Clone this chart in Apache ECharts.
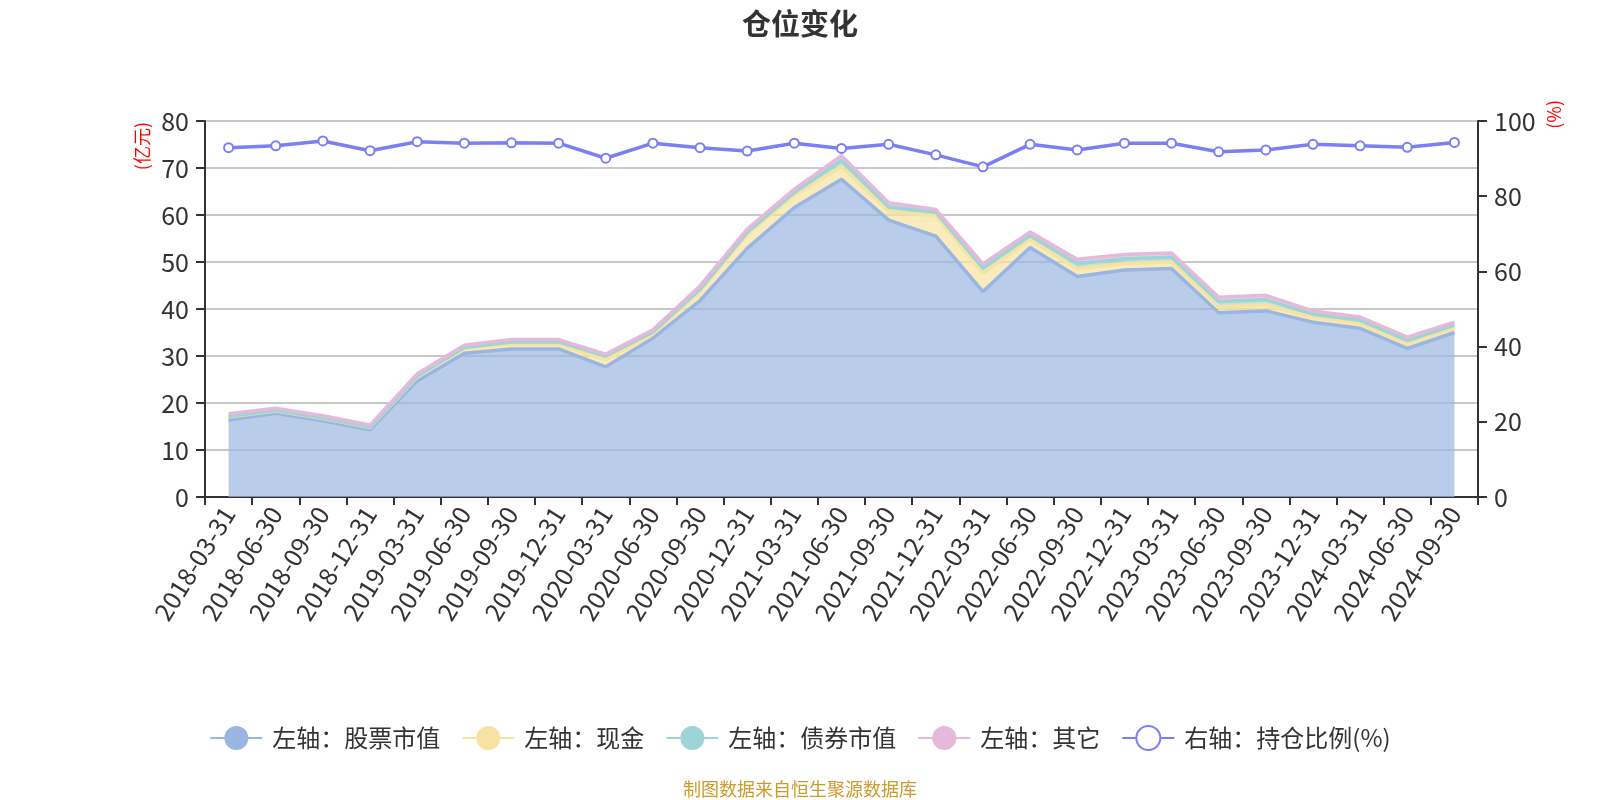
<!DOCTYPE html>
<html>
<head>
<meta charset="utf-8">
<title>仓位变化</title>
<script src="https://cdn.jsdelivr.net/npm/echarts@6/dist/echarts.min.js"></script>
<style>
html, body { margin: 0; padding: 0; background: #fff; }
#ct1 { width: 1600px; height: 800px; }
</style>
</head>
<body>
<div id="ct1"></div>
<script>
var dates = ['2018-03-31', '2018-06-30', '2018-09-30', '2018-12-31', '2019-03-31', '2019-06-30', '2019-09-30',
	'2019-12-31', '2020-03-31', '2020-06-30', '2020-09-30', '2020-12-31', '2021-03-31', '2021-06-30',
	'2021-09-30', '2021-12-31', '2022-03-31', '2022-06-30', '2022-09-30', '2022-12-31', '2023-03-31',
	'2023-06-30', '2023-09-30', '2023-12-31', '2024-03-31', '2024-06-30', '2024-09-30'];
// 亿元
var stockVal = [16.4, 17.8, 16.2, 14.3, 24.7, 30.6, 31.5, 31.5, 27.7, 33.8, 41.8, 52.9, 61.6, 67.6,
	58.9, 55.5, 43.7, 53.1, 46.9, 48.3, 48.6, 39.2, 39.6, 37.2, 35.9, 31.6, 35.0];
var cashVal = [0.6, 0.5, 0.5, 0.5, 0.8, 1.0, 1.0, 1.0, 1.5, 0.9, 2.0, 3.0, 2.6, 2.7,
	1.9, 4.3, 3.9, 1.7, 1.6, 1.4, 1.4, 1.3, 1.3, 1.0, 1.0, 1.0, 1.0];
var bondVal = [0.1, 0.1, 0.1, 0.1, 0.2, 0.2, 0.5, 0.5, 0.8, 0.4, 0.4, 0.4, 0.6, 1.3,
	0.9, 0.8, 1.1, 0.8, 1.2, 1.0, 1.0, 1.1, 1.1, 0.7, 0.7, 0.7, 0.6];
var otherVal = [0.6, 0.5, 0.5, 0.4, 0.5, 0.5, 0.5, 0.5, 0.4, 0.5, 0.7, 0.7, 0.7, 1.0,
	0.9, 0.6, 0.9, 0.8, 0.9, 0.9, 0.9, 0.9, 0.9, 0.7, 0.7, 0.7, 0.6];
// %
var ratioVal = [92.9, 93.4, 94.7, 92.1, 94.5, 94.1, 94.2, 94.1, 90.1, 94.1, 92.9, 92.0, 94.1, 92.7,
	93.8, 91.0, 87.8, 93.8, 92.3, 94.1, 94.1, 91.8, 92.3, 93.8, 93.4, 93.0, 94.3];

var leftTicks = { min: 0, max: 80, interval: 10 };
var rightTicks = { min: 0, max: 100, interval: 20 };

var font = '"Noto Sans CJK SC", "Noto Sans", sans-serif';

function areaSeries(name, data, color, fill) {
	return {
		name: name,
		type: 'line',
		stack: 'total',
		yAxisIndex: 0,
		data: data,
		symbol: 'circle',
		showSymbol: false,
		lineStyle: { color: color, width: 3.5 },
		itemStyle: { color: color },
		areaStyle: { color: fill, opacity: 0.7 }
	};
}

var option1 = {
	textStyle: { fontFamily: font },
	title: {
		text: '仓位变化',
		left: 'center',
		top: 4,
		textStyle: { fontSize: 29, fontWeight: 'bold', color: '#333', fontFamily: font }
	},
	legend: {
		bottom: 44,
		left: 'center',
		itemWidth: 52,
		itemHeight: 30,
		itemGap: 21,
		textStyle: { fontSize: 24, color: '#333', padding: [0, 0, 0, 5] },
		data: ['左轴：股票市值', '左轴：现金', '左轴：债券市值', '左轴：其它', '右轴：持仓比例(%)']
	},
	grid: { left: 205, right: 122, top: 121, bottom: 303, containLabel: false },
	graphic: [
		{
			type: 'text', left: 133, top: 122, rotation: Math.PI / 2,
			style: { text: '(亿元)', fill: '#ff0000', fontSize: 18, fontFamily: font }
		},
		{
			type: 'text', left: 1545, top: 100, rotation: Math.PI / 2,
			style: { text: '(%)', fill: '#ff0000', fontSize: 18, fontFamily: font }
		},
		{
			type: 'text', left: 'center', bottom: 2,
			style: { text: '制图数据来自恒生聚源数据库', fill: '#cc9a2c', fontSize: 18, fontFamily: font }
		}
	],
	xAxis: {
		type: 'category',
		data: dates,
		boundaryGap: true,
		axisLine: { lineStyle: { color: '#333', width: 2 } },
		axisTick: { show: true, length: 8, lineStyle: { color: '#333', width: 2 } },
		axisLabel: { rotate: 58, fontSize: 25, color: '#333', margin: 12, interval: 0 }
	},
	yAxis: [
		{
			type: 'value',
			min: leftTicks.min, max: leftTicks.max, interval: leftTicks.interval,
			axisLine: { show: true, lineStyle: { color: '#333', width: 2 } },
			axisTick: { show: true, length: 9, lineStyle: { color: '#333', width: 2 } },
			axisLabel: { fontSize: 25, color: '#333', margin: 16 },
			splitLine: { show: true, lineStyle: { color: '#c8c8c8', width: 2 } }
		},
		{
			type: 'value',
			min: rightTicks.min, max: rightTicks.max, interval: rightTicks.interval,
			axisLine: { show: true, lineStyle: { color: '#333', width: 2 } },
			axisTick: { show: true, length: 9, lineStyle: { color: '#333', width: 2 } },
			axisLabel: { fontSize: 25, color: '#333', margin: 16 },
			splitLine: { show: false }
		}
	],
	series: [
		areaSeries('左轴：股票市值', stockVal, '#9ab5e1', '#9bb8e3'),
		areaSeries('左轴：现金', cashVal, '#f6e3a3', '#f6e2a0'),
		areaSeries('左轴：债券市值', bondVal, '#9dd5d6', '#9fd6d6'),
		areaSeries('左轴：其它', otherVal, '#e6b8da', '#e9bddc'),
		{
			name: '右轴：持仓比例(%)',
			type: 'line',
			yAxisIndex: 1,
			data: ratioVal,
			symbol: 'emptyCircle',
			symbolSize: 9,
			showSymbol: true,
			lineStyle: { color: '#7a7ff4', width: 3.5 },
			itemStyle: { color: '#7a7ff4', borderWidth: 2 },
			z: 5
		}
	]
};

var myChart1 = echarts.init(document.getElementById('ct1'));
myChart1.setOption(option1, true);
</script>
</body>
</html>
